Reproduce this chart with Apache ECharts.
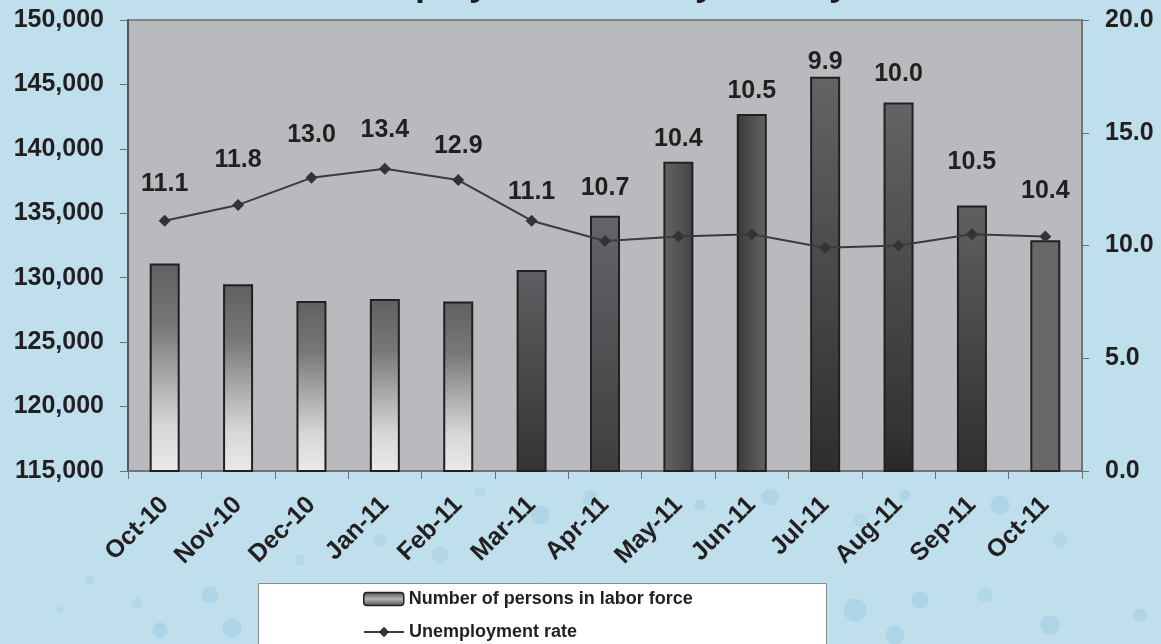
<!DOCTYPE html>
<html>
<head>
<meta charset="utf-8">
<script src="https://cdn.jsdelivr.net/npm/echarts@6/dist/echarts.min.js"></script>
<style>
html,body{margin:0;padding:0;}
body{background-color:#bedfeb;
background-image:
radial-gradient(circle at 540px 515px,#aed5e7 9px,transparent 10px),
radial-gradient(circle at 590px 498px,#aed5e7 7px,transparent 8px),
radial-gradient(circle at 650px 530px,#b3d8e8 6px,transparent 7px),
radial-gradient(circle at 700px 505px,#aed5e7 5px,transparent 6px),
radial-gradient(circle at 770px 497px,#aed5e7 8px,transparent 9px),
radial-gradient(circle at 860px 520px,#b3d8e8 6px,transparent 7px),
radial-gradient(circle at 905px 495px,#aed5e7 5px,transparent 6px),
radial-gradient(circle at 1000px 505px,#aed5e7 9px,transparent 10px),
radial-gradient(circle at 1060px 540px,#b3d8e8 7px,transparent 8px),
radial-gradient(circle at 855px 610px,#aed5e7 11px,transparent 12px),
radial-gradient(circle at 920px 600px,#aed5e7 8px,transparent 9px),
radial-gradient(circle at 985px 595px,#b3d8e8 7px,transparent 8px),
radial-gradient(circle at 1050px 625px,#aed5e7 9px,transparent 10px),
radial-gradient(circle at 1140px 615px,#aed5e7 6px,transparent 7px),
radial-gradient(circle at 895px 635px,#aed5e7 9px,transparent 10px),
radial-gradient(circle at 210px 595px,#aed5e7 8px,transparent 9px),
radial-gradient(circle at 160px 630px,#aed5e7 7px,transparent 8px),
radial-gradient(circle at 137px 603px,#b3d8e8 5px,transparent 6px),
radial-gradient(circle at 232px 628px,#aed5e7 9px,transparent 10px),
radial-gradient(circle at 90px 580px,#b3d8e8 4px,transparent 5px),
radial-gradient(circle at 60px 610px,#b3d8e8 3px,transparent 4px),
radial-gradient(circle at 440px 555px,#b3d8e8 8px,transparent 9px),
radial-gradient(circle at 380px 540px,#b3d8e8 6px,transparent 7px),
radial-gradient(circle at 300px 560px,#b3d8e8 5px,transparent 6px),
radial-gradient(circle at 480px 492px,#b3d8e8 5px,transparent 6px);
}
#chart{width:1161px;height:644px;}
</style>
</head>
<body>
<div id="chart"></div>
<script>
// ---- data ----
const categories = ["Oct-10","Nov-10","Dec-10","Jan-11","Feb-11","Mar-11","Apr-11","May-11","Jun-11","Jul-11","Aug-11","Sep-11","Oct-11"];
const laborForce = [131100,129500,128200,128350,128150,130600,134800,139000,142700,145600,143600,135600,132900];
const unemploymentRate = [11.1,11.8,13.0,13.4,12.9,11.1,10.2,10.4,10.5,9.9,10.0,10.5,10.4];
const rateLabels = ["11.1","11.8","13.0","13.4","12.9","11.1","10.7","10.4","10.5","9.9","10.0","10.5","10.4"];
const leftTicks = {min:115000,max:150000,interval:5000};
const rightTicks = {min:0,max:20,interval:5};

// ---- styles ----
const FONT = '"Liberation Sans", Arial, sans-serif';
const TXT = '#231f20';
function vgrad(stops){return {type:'linear',x:0,y:0,x2:0,y2:1,colorStops:stops.map(s=>({offset:s[0],color:s[1]}))};}
function hgrad(stops){return {type:'linear',x:0,y:0,x2:1,y2:0,colorStops:stops.map(s=>({offset:s[0],color:s[1]}))};}
const lightBar = vgrad([[0,'#5f6062'],[0.3,'#77787a'],[0.55,'#a9aaac'],[0.78,'#d6d7d9'],[1,'#e9eaec']]);
const barFills = [
  lightBar, lightBar, lightBar, lightBar, lightBar,
  vgrad([[0,'#5e5f62'],[1,'#343434']]),
  vgrad([[0,'#646568'],[1,'#3d3e40']]),
  hgrad([[0,'#636466'],[1,'#424345']]),
  hgrad([[0,'#38393b'],[1,'#646567']]),
  vgrad([[0,'#636466'],[1,'#2e2e2f']]),
  vgrad([[0,'#636466'],[0.9,'#333334'],[1,'#272727']]),
  vgrad([[0,'#5f6062'],[1,'#2f2f2f']]),
  vgrad([[0,'#67686a'],[1,'#67686a']])
];
const legendBarFill = vgrad([[0,'#4a4b4d'],[0.5,'#b3b4b6'],[1,'#4a4b4d']]);
// label vertical offsets (px) relative to each rate point
const labelDy = [-37,-45,-43,-39,-34,-29,-53,-97,-143,-186,-171,-72,-45];

const legendText = {fontFamily:FONT,fontSize:18,fontWeight:'bold',color:TXT,lineHeight:18};

const chart = echarts.init(document.getElementById('chart'), null, {renderer:'canvas'});
const option = {
  backgroundColor:'transparent',
  animation:false,
  textStyle:{fontFamily:FONT},
  title:{
    text:'Unemployment Rate by County',
    left:315, top:-33, padding:0,
    textStyle:{fontFamily:FONT,fontSize:36,fontWeight:'bold',color:TXT,lineHeight:36}
  },
  grid:{left:128,right:79,top:20,bottom:173,show:true,backgroundColor:'#b9babe',borderColor:'#6d6e71',borderWidth:1.5},
  legend:[{
    left:363, top:590, itemWidth:40, itemHeight:13, padding:0,
    textStyle:legendText,
    data:[{name:'Number of persons in labor force',itemStyle:{color:legendBarFill,borderColor:'#231f20',borderWidth:1.5}}]
  },{
    left:363, top:623, itemWidth:40, itemHeight:13, padding:0,
    textStyle:legendText,
    data:[{name:'Unemployment rate'}]
  }],
  graphic:[{
    type:'rect', z:-1, left:258, top:583,
    shape:{width:568,height:80},
    style:{fill:'#ffffff',stroke:'#8a8b8d',lineWidth:1}
  }],
  xAxis:{
    type:'category', data:categories,
    axisLine:{lineStyle:{color:'#6d6e71',width:1.5}},
    axisTick:{show:true,length:8,lineStyle:{color:'#6d6e71'}},
    axisLabel:{rotate:45,margin:30,interval:0,fontFamily:FONT,fontSize:25,fontWeight:'bold',color:TXT}
  },
  yAxis:[{
    type:'value', min:leftTicks.min, max:leftTicks.max, interval:leftTicks.interval,
    splitLine:{show:false},
    axisLine:{show:true,lineStyle:{color:'#555659',width:2}},
    axisTick:{show:true,length:8,lineStyle:{color:'#6d6e71'}},
    axisLabel:{margin:24,fontFamily:FONT,fontSize:25,fontWeight:'bold',color:TXT,
      formatter:v=>v.toLocaleString('en-US')}
  },{
    type:'value', min:rightTicks.min, max:rightTicks.max, interval:rightTicks.interval,
    splitLine:{show:false},
    axisLine:{show:true,lineStyle:{color:'#6d6e71',width:1.5}},
    axisTick:{show:true,length:7,lineStyle:{color:'#6d6e71'}},
    axisLabel:{margin:23,fontFamily:FONT,fontSize:25,fontWeight:'bold',color:TXT,
      formatter:v=>v.toFixed(1)}
  }],
  series:[{
    name:'Number of persons in labor force',
    type:'bar', yAxisIndex:0, barWidth:30,
    itemStyle:{color:legendBarFill,borderColor:'#231f20',borderWidth:2},
    data:laborForce.map((v,i)=>({value:v,itemStyle:{color:barFills[i],borderColor:'#231f20',borderWidth:2}})),
    z:2
  },{
    name:'Unemployment rate',
    type:'line', yAxisIndex:1,
    symbol:'diamond', symbolSize:12,
    lineStyle:{color:'#3a3b3d',width:2},
    itemStyle:{color:'#333335'},
    label:{show:true,position:'inside',fontFamily:FONT,fontSize:25,fontWeight:'bold',color:TXT},
    data:unemploymentRate.map((v,i)=>({value:v,label:{offset:[0,labelDy[i]],formatter:rateLabels[i]}})),
    z:3
  }]
};
chart.setOption(option);
</script>
</body>
</html>
